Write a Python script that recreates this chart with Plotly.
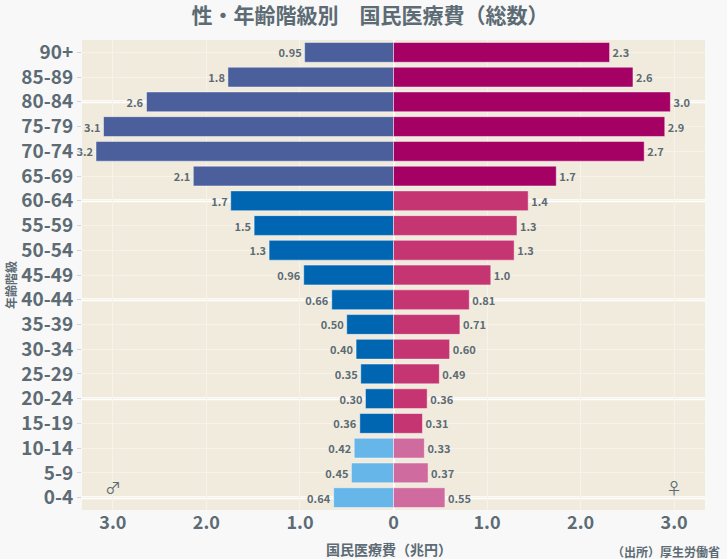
import plotly.graph_objects as go

# 年齢階級（下から）
ages = ["0-4", "5-9", "10-14", "15-19", "20-24", "25-29", "30-34", "35-39",
        "40-44", "45-49", "50-54", "55-59", "60-64", "65-69", "70-74",
        "75-79", "80-84", "85-89", "90+"]

# 国民医療費（兆円）
male = [0.64, 0.45, 0.42, 0.36, 0.30, 0.35, 0.40, 0.50, 0.66, 0.96,
        1.33, 1.49, 1.74, 2.14, 3.18, 3.10, 2.64, 1.77, 0.95]
female = [0.55, 0.37, 0.33, 0.31, 0.36, 0.49, 0.60, 0.71, 0.81, 1.04,
          1.29, 1.32, 1.44, 1.74, 2.68, 2.90, 2.96, 2.56, 2.31]

x_ticks = [-3, -2, -1, 0, 1, 2, 3]
x_tick_text = ["3.0", "2.0", "1.0", "0", "1.0", "2.0", "3.0"]

FONT = "Noto Sans CJK JP"
TXT = "#5c6b74"

W, H = 727, 559
L, R, T, B = 82, 22, 40, 49
PW, PH = W - L - R, H - T - B


def px(x):
    # ピクセル -> paper 座標
    return (x - L) / PW


def py(y):
    return (H - B - y) / PH


def group_colors(young, work, old):
    # 0-14 / 15-64 / 65+
    out = []
    for i in range(len(ages)):
        if i < 3:
            out.append(young)
        elif i < 13:
            out.append(work)
        else:
            out.append(old)
    return out


fig = go.Figure()

fig.add_trace(go.Bar(
    y=ages, x=[-v for v in male], customdata=male, orientation="h",
    marker=dict(color=group_colors("#66b6ea", "#0066b2", "#4a5f9c"),
                line=dict(color="rgba(255,255,255,0.45)", width=1)),
    texttemplate="%{customdata:.2r}", textposition="outside",
    textfont=dict(family=FONT, size=11, color=TXT, weight="bold"),
    cliponaxis=False, name="男性",
))
fig.add_trace(go.Bar(
    y=ages, x=female, customdata=female, orientation="h",
    marker=dict(color=group_colors("#d06ba0", "#c43572", "#a50064"),
                line=dict(color="rgba(255,255,255,0.45)", width=1)),
    texttemplate="%{customdata:.2r}", textposition="outside",
    textfont=dict(family=FONT, size=11, color=TXT, weight="bold"),
    cliponaxis=False, name="女性",
))

# 4階級ごとの太い白線
for i in range(0, len(ages), 4):
    fig.add_shape(type="line", xref="paper", x0=0, x1=1, y0=ages[i], y1=ages[i],
                  line=dict(color="white", width=3), layer="below")

fig.add_annotation(x=-3.0, y=0.45, text="♂", showarrow=False,
                   font=dict(family=FONT, size=16, color=TXT))
fig.add_annotation(x=3.0, y=0.45, text="♀", showarrow=False,
                   font=dict(family=FONT, size=16, color=TXT))

# 軸タイトルと出所
fig.add_annotation(xref="paper", yref="paper", x=px(10), y=py(285),
                   xanchor="center", yanchor="middle",
                   text="年齢階級", textangle=-90, showarrow=False,
                   font=dict(family=FONT, size=12, color=TXT, weight="bold"))
fig.add_annotation(xref="paper", yref="paper", x=px(389), y=py(549),
                   xanchor="center", yanchor="middle",
                   text="国民医療費（兆円）", showarrow=False,
                   font=dict(family=FONT, size=14, color=TXT, weight="bold"))
fig.add_annotation(xref="paper", yref="paper", x=px(722), y=py(551),
                   xanchor="right", yanchor="middle", showarrow=False,
                   text="（出所）厚生労働省",
                   font=dict(family=FONT, size=12, color=TXT, weight="bold"))

fig.update_layout(
    width=W, height=H,
    margin=dict(l=L, r=R, t=T, b=B, autoexpand=False),
    paper_bgcolor="#f8f8f8", plot_bgcolor="#f1ebdd",
    barmode="relative", bargap=0.2, showlegend=False,
    title=dict(text="性・年齢階級別　国民医療費（総数）", x=px(370), xref="paper",
               xanchor="center", yref="container", y=1 - 16 / H,
               yanchor="middle",
               font=dict(family=FONT, size=21, color=TXT, weight="bold")),
    font=dict(family=FONT, color=TXT),
)
fig.update_xaxes(
    range=[-3.33, 3.33], tickvals=x_ticks, ticktext=x_tick_text,
    tickfont=dict(family=FONT, size=18, color=TXT, weight="bold"),
    gridcolor="#f7f3ea", gridwidth=1, zeroline=True,
    zerolinecolor="white", zerolinewidth=2, automargin=False,
)
fig.update_yaxes(
    range=[-0.5, len(ages) - 0.5],
    tickfont=dict(family=FONT, size=19, color=TXT, weight="bold"),
    gridcolor="#f7f3ea", gridwidth=1, automargin=False,
    ticks="outside", ticklen=4, tickcolor="#d0d4d8",
)

# body の既定余白を消して図をページ左上に置く
fig.write_html("out.html", config={"displayModeBar": False},
               post_script="document.body.style.margin='0px';")
